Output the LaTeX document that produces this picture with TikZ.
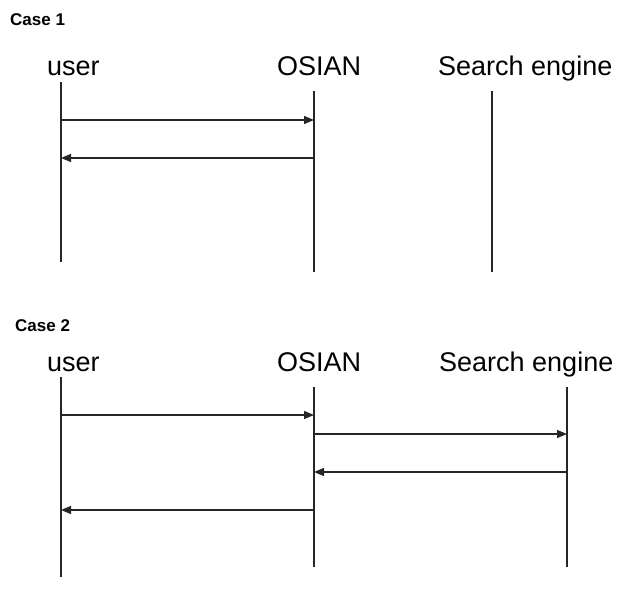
\documentclass[tikz,border=0pt]{standalone}
\usepackage{fontspec}
\setmainfont{Liberation Sans}
\usetikzlibrary{arrows.meta}
\tikzset{
  lifeline/.style={draw=black!85, line width=1.3bp},
  msg/.style={draw=black!85, line width=1.3bp, -{Triangle[length=10bp,width=8bp]}},
  actor/.style={anchor=base west, inner sep=0pt, font=\fontsize{27bp}{32bp}\selectfont},
  casetitle/.style={anchor=base west, inner sep=0pt, font=\fontsize{17bp}{20bp}\selectfont\bfseries}
}
\begin{document}
\begin{tikzpicture}[x=1bp, y=-1bp]
\useasboundingbox (0,0) rectangle (621,611);
% Case 1
\node[casetitle] (c1) at (10,26) {Case 1};
\node[actor] (u1) at (47,76) {user};
\node[actor] (o1) at (277,76) {OSIAN};
\node[actor] (s1) at (438,76) {Search engine};
\coordinate (u1t) at (61,82);  \coordinate (u1b) at (61,262);
\coordinate (o1t) at (314,91); \coordinate (o1b) at (314,272);
\coordinate (s1t) at (492,91); \coordinate (s1b) at (492,272);
\draw[lifeline] (u1t) -- (u1b);
\draw[lifeline] (o1t) -- (o1b);
\draw[lifeline] (s1t) -- (s1b);
\coordinate (u1a) at (61,120);  \coordinate (o1a) at (314,120);
\coordinate (u1r) at (61,158);  \coordinate (o1r) at (314,158);
\draw[msg] (u1a) -- (o1a);
\draw[msg] (o1r) -- (u1r);
% Case 2
\node[casetitle] (c2) at (15,331) {Case 2};
\node[actor] (u2) at (47,371) {user};
\node[actor] (o2) at (277,371) {OSIAN};
\node[actor] (s2) at (439,371) {Search engine};
\coordinate (u2t) at (61,377);  \coordinate (u2b) at (61,577);
\coordinate (o2t) at (314,387); \coordinate (o2b) at (314,567);
\coordinate (s2t) at (567,387); \coordinate (s2b) at (567,567);
\draw[lifeline] (u2t) -- (u2b);
\draw[lifeline] (o2t) -- (o2b);
\draw[lifeline] (s2t) -- (s2b);
\coordinate (u2a) at (61,415);  \coordinate (o2a) at (314,415);
\coordinate (o2b1) at (314,434); \coordinate (s2a) at (567,434);
\coordinate (s2r) at (567,472); \coordinate (o2r) at (314,472);
\coordinate (o2c) at (314,510); \coordinate (u2r) at (61,510);
\draw[msg] (u2a) -- (o2a);
\draw[msg] (o2b1) -- (s2a);
\draw[msg] (s2r) -- (o2r);
\draw[msg] (o2c) -- (u2r);
\end{tikzpicture}
\end{document}
